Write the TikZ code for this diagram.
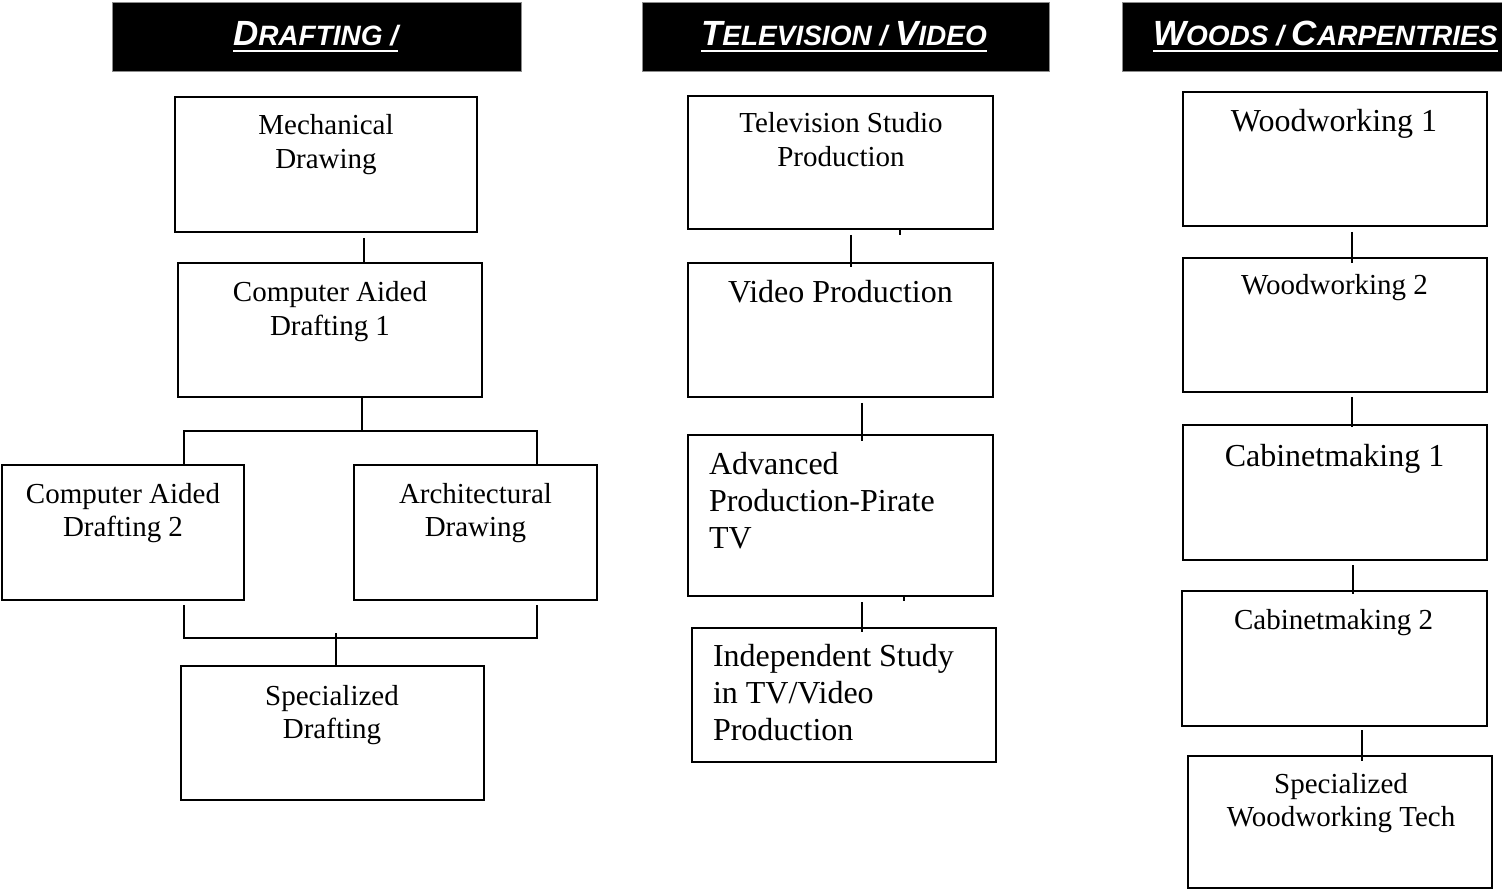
\documentclass[tikz,border=0pt]{standalone}
\usepackage{fontspec}
\setmainfont{Liberation Serif}
\newfontfamily\hdrfont{Liberation Sans}
\newcommand\fsA{\fontsize{29}{33.5}\selectfont}
\newcommand\fsB{\fontsize{32}{37}\selectfont}
\newcommand\hsc[2]{{\fontsize{35}{35}\selectfont #1}{\fontsize{28}{28}\selectfont #2}}
\begin{document}
\begin{tikzpicture}[x=1pt,y=-1pt,
  box/.style={draw=black, line width=2pt, inner sep=0pt, outer sep=0pt},
  hbox/.style={fill=black, draw=black!45, line width=1pt, inner sep=0pt, outer sep=0pt, minimum height=69pt},
  htext/.style={text=white, font=\hdrfont\bfseries\itshape, inner sep=0pt, outer sep=0pt, anchor=base west},
  uline/.style={draw=white, line width=1.5pt},
  lbl/.style={inner sep=0pt, outer sep=0pt, align=center, anchor=base, font=\fsA},
  lblB/.style={inner sep=0pt, outer sep=0pt, align=center, anchor=base, font=\fsB},
  lblL/.style={inner sep=0pt, outer sep=0pt, align=left, anchor=base west, font=\fsB},
  conn/.style={draw=black, line width=2pt}]
\useasboundingbox (0,0) rectangle (1502,890);
\fill[white] (0,0) rectangle (1502,890);

% headers
\node[hbox, minimum width=409pt] (h1) at (316.5,37.5) {};
\node[hbox, minimum width=407pt] (h2) at (845.5,37.5) {};
\node[hbox, minimum width=408pt] (h3) at (1326,37.5) {};
\node[htext] (h1t) at (233,46) {\hsc{D}{RAFTING /}};
\node[htext] (h2t) at (701,46) {\hsc{T}{ELEVISION / }\hsc{V}{IDEO}};
\node[htext] (h3t) at (1153,46) {\hsc{W}{OODS / }\hsc{C}{ARPENTRIES}};
\foreach \t in {h1t,h2t,h3t}{
  \draw[uline] ([yshift=-5pt]\t.base west) -- ([yshift=-5pt]\t.base east);
}

% Drafting column
\node[box, minimum width=302pt, minimum height=135pt] (mech) at (326,164.5) {};
\node[box, minimum width=304pt, minimum height=134pt] (cad1) at (330,330) {};
\node[box, minimum width=242pt, minimum height=135pt] (cad2) at (123,532.5) {};
\node[box, minimum width=243pt, minimum height=135pt] (arch) at (475.5,532.5) {};
\node[box, minimum width=303pt, minimum height=134pt] (spec) at (332.5,733) {};
% multi-line labels: base anchor = baseline of the last line
\node[lbl] (mechT) at (326,168.5) {Mechanical\\Drawing};
\node[lbl] (cad1T) at (330,335.5) {Computer Aided\\Drafting 1};
\node[lbl] (cad2T) at (123,536.5) {Computer Aided\\Drafting 2};
\node[lbl] (archT) at (475.5,536.5) {Architectural\\Drawing};
\node[lbl] (specT) at (332,738.5) {Specialized\\Drafting};

\coordinate (j1) at (362,431);
\coordinate (j2) at (336,638);
\draw[conn, shorten <=6pt] ([xshift=38pt]mech.south) -- ([xshift=34pt]cad1.north);
\draw[conn] (cad1.south -| j1) -- (j1);
\draw[conn] ([xshift=61pt]cad2.north) -- ++(0,-34) -| ([xshift=61.5pt]arch.north);
\draw[conn, shorten <=5pt, shorten >=5pt] ([xshift=61pt]cad2.south) |- (j2) -| ([xshift=61.5pt]arch.south);
\draw[conn] ([yshift=5pt]j2) -- (spec.north -| j2);

% Television / Video column
\node[box, minimum width=305pt, minimum height=133pt] (tvs) at (840.5,162.5) {};
\node[box, minimum width=305pt, minimum height=134pt] (vid) at (840.5,330) {};
\node[box, minimum width=305pt, minimum height=161pt] (adv) at (840.5,515.5) {};
\node[box, minimum width=304pt, minimum height=134pt] (ind) at (844,695) {};
\node[lbl] (tvsT) at (841,166.5) {Television Studio\\Production};
\node[lblB] (vidT) at (840.5,303) {Video Production};
\node[lblL] (advT) at (709,548) {Advanced\\Production-Pirate\\TV};
\node[lblL] (indT) at (713,740) {Independent Study\\in TV/Video\\Production};

\coordinate (t1) at (900,235);
\coordinate (t2) at (904,601);
\draw[conn, shorten <=6pt, shorten >=-4pt] ([xshift=10.5pt]tvs.south) -- ([xshift=10.5pt]vid.north);
\draw[conn] (tvs.south -| t1) -- (t1);
\draw[conn, shorten <=6pt, shorten >=-6pt] ([xshift=21.5pt]vid.south) -- ([xshift=21.5pt]adv.north);
\draw[conn, shorten <=6pt, shorten >=-4pt] ([xshift=21.5pt]adv.south) -- ([xshift=18pt]ind.north);
\draw[conn] (adv.south -| t2) -- (t2);

% Woods / Carpentries column
\node[box, minimum width=304pt, minimum height=134pt] (w1) at (1335,159) {};
\node[box, minimum width=304pt, minimum height=134pt] (w2) at (1335,325) {};
\node[box, minimum width=304pt, minimum height=135pt] (c1) at (1335,492.5) {};
\node[box, minimum width=305pt, minimum height=135pt] (c2) at (1334.5,658.5) {};
\node[box, minimum width=304pt, minimum height=132pt] (swt) at (1340,822) {};
\node[lblB] (w1T) at (1334,132) {Woodworking 1};
\node[lbl] (w2T) at (1334.5,295) {Woodworking 2};
\node[lblB] (c1T) at (1334.5,466) {Cabinetmaking 1};
\node[lbl] (c2T) at (1333.5,629) {Cabinetmaking 2};
\node[lbl] (swtT) at (1341,826.5) {Specialized\\Woodworking Tech};

\draw[conn, shorten <=6pt, shorten >=-5pt] ([xshift=17pt]w1.south) -- ([xshift=17pt]w2.north);
\draw[conn, shorten <=5pt, shorten >=-2pt] ([xshift=17pt]w2.south) -- ([xshift=17pt]c1.north);
\draw[conn, shorten <=5pt, shorten >=-3pt] ([xshift=18pt]c1.south) -- ([xshift=18.5pt]c2.north);
\draw[conn, shorten <=4pt, shorten >=-5pt] ([xshift=27.5pt]c2.south) -- ([xshift=22pt]swt.north);
\end{tikzpicture}
\end{document}
